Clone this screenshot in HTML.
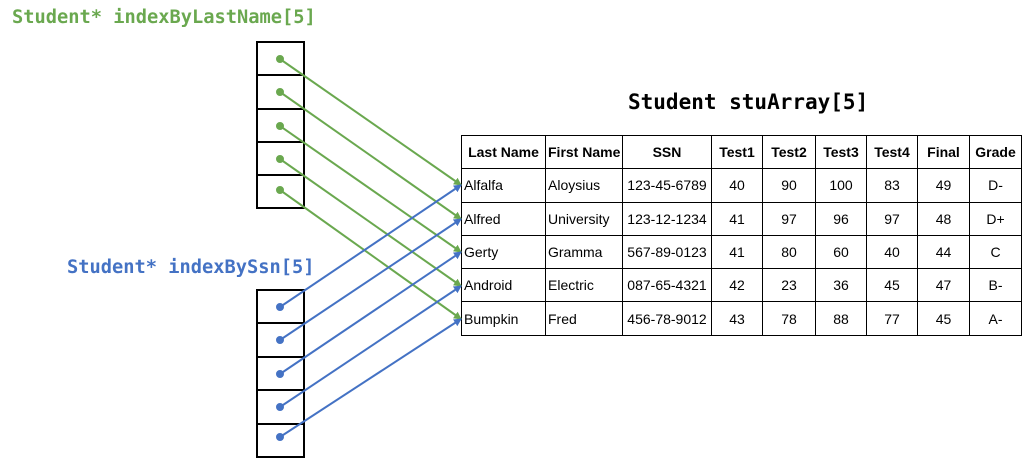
<!DOCTYPE html>
<html><head><style>
body{margin:0;width:1023px;height:458px;background:#fff;position:relative;overflow:hidden;font-family:"Liberation Sans",sans-serif}
.t{position:absolute;font-family:"DejaVu Sans Mono","Liberation Mono",monospace;font-weight:bold;white-space:nowrap}
table{position:absolute;left:461px;top:135px;width:561px;border-collapse:collapse;font-size:14px;table-layout:fixed}
td{border:1.5px solid #000;height:32.3px;padding:0 2px;text-align:center;white-space:nowrap;overflow:hidden}
tr:first-child td{font-weight:bold}
td:first-child,td:nth-child(2){text-align:left}
tr:first-child td:first-child,tr:first-child td:nth-child(2){text-align:center}
</style></head><body>
<div class="t" style="left:12px;top:7px;font-size:18.7px;color:#6aa84f">Student* indexByLastName[5]</div>
<div class="t" style="left:67px;top:257px;font-size:18.7px;color:#4472c4">Student* indexBySsn[5]</div>
<div class="t" style="left:628px;top:90px;font-size:21px;color:#000">Student stuArray[5]</div>
<table>
<colgroup><col style="width:84px"><col style="width:77px"><col style="width:89px"><col style="width:51px"><col style="width:53px"><col style="width:51px"><col style="width:51px"><col style="width:52px"><col style="width:52px"></colgroup>
<tr><td>Last Name</td><td>First Name</td><td>SSN</td><td>Test1</td><td>Test2</td><td>Test3</td><td>Test4</td><td>Final</td><td>Grade</td></tr>
<tr><td>Alfalfa</td><td>Aloysius</td><td>123-45-6789</td><td>40</td><td>90</td><td>100</td><td>83</td><td>49</td><td>D-</td></tr>
<tr><td>Alfred</td><td>University</td><td>123-12-1234</td><td>41</td><td>97</td><td>96</td><td>97</td><td>48</td><td>D+</td></tr>
<tr><td>Gerty</td><td>Gramma</td><td>567-89-0123</td><td>41</td><td>80</td><td>60</td><td>40</td><td>44</td><td>C</td></tr>
<tr><td>Android</td><td>Electric</td><td>087-65-4321</td><td>42</td><td>23</td><td>36</td><td>45</td><td>47</td><td>B-</td></tr>
<tr><td>Bumpkin</td><td>Fred</td><td>456-78-9012</td><td>43</td><td>78</td><td>88</td><td>77</td><td>45</td><td>A-</td></tr>
</table>
<svg width="1023" height="458" style="position:absolute;left:0;top:0">
<defs>
<marker id="g" markerWidth="8" markerHeight="8" refX="7" refY="4" orient="auto" markerUnits="userSpaceOnUse"><path d="M0,0L8,4L0,8z" fill="#6aa84f"/></marker>
<marker id="b" markerWidth="8" markerHeight="8" refX="7" refY="4" orient="auto" markerUnits="userSpaceOnUse"><path d="M0,0L8,4L0,8z" fill="#4472c4"/></marker>
</defs>
<g fill="none" stroke="#000" stroke-width="2">
<rect x="257" y="42" width="47" height="166"/>
<line x1="257" y1="75" x2="304" y2="75"/><line x1="257" y1="109" x2="304" y2="109"/><line x1="257" y1="142" x2="304" y2="142"/><line x1="257" y1="175" x2="304" y2="175"/>
<rect x="257" y="290" width="47" height="167"/>
<line x1="257" y1="323" x2="304" y2="323"/><line x1="257" y1="357" x2="304" y2="357"/><line x1="257" y1="390" x2="304" y2="390"/><line x1="257" y1="424" x2="304" y2="424"/>
</g>
<g stroke="#6aa84f" stroke-width="2" fill="#6aa84f">
<line x1="280" y1="59" x2="461" y2="185" marker-end="url(#g)"/>
<line x1="280" y1="92" x2="461" y2="219" marker-end="url(#g)"/>
<line x1="280" y1="126" x2="461" y2="252" marker-end="url(#g)"/>
<line x1="280" y1="159" x2="461" y2="286" marker-end="url(#g)"/>
<line x1="280" y1="190" x2="461" y2="319" marker-end="url(#g)"/>
<circle cx="280" cy="59" r="3"/><circle cx="280" cy="92" r="3"/><circle cx="280" cy="126" r="3"/><circle cx="280" cy="159" r="3"/><circle cx="280" cy="190" r="3"/>
</g>
<g stroke="#4472c4" stroke-width="2" fill="#4472c4">
<line x1="280" y1="307" x2="461" y2="185" marker-end="url(#b)"/>
<line x1="280" y1="340" x2="461" y2="219" marker-end="url(#b)"/>
<line x1="280" y1="374" x2="461" y2="252" marker-end="url(#b)"/>
<line x1="280" y1="407" x2="461" y2="286" marker-end="url(#b)"/>
<line x1="280" y1="437" x2="461" y2="319" marker-end="url(#b)"/>
<circle cx="280" cy="307" r="3"/><circle cx="280" cy="340" r="3"/><circle cx="280" cy="374" r="3"/><circle cx="280" cy="407" r="3"/><circle cx="280" cy="437" r="3"/>
</g>
</svg>
</body></html>
